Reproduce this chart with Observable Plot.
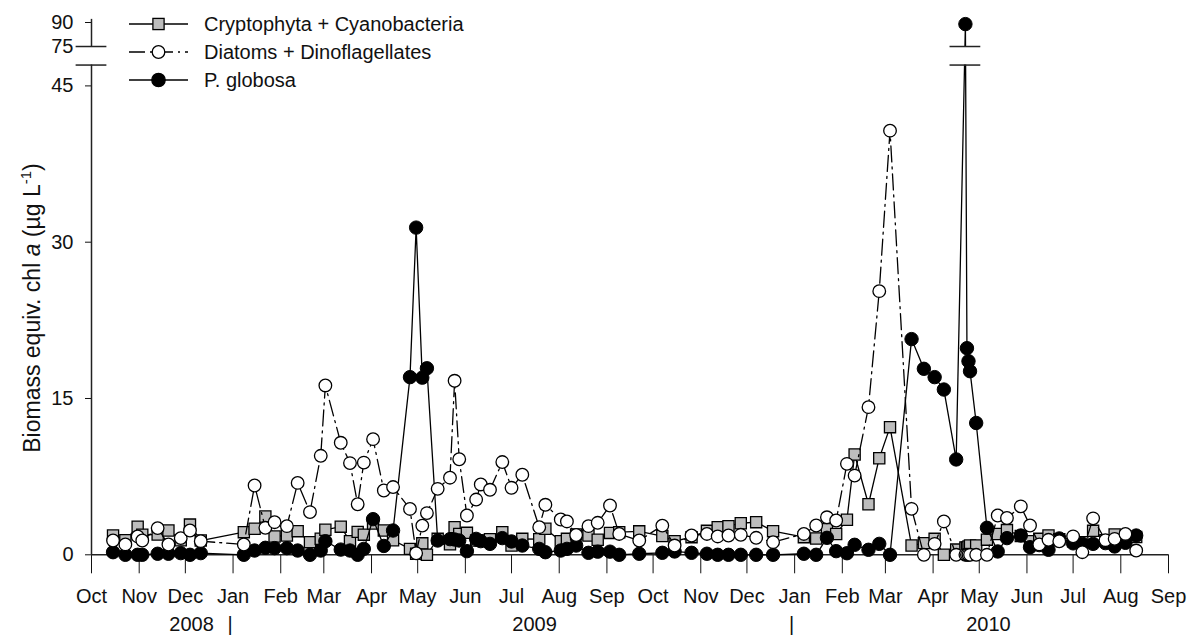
<!DOCTYPE html>
<html><head><meta charset="utf-8">
<script src="https://cdn.jsdelivr.net/npm/d3@7"></script>
<script src="https://cdn.jsdelivr.net/npm/@observablehq/plot@0.6"></script>
<style>
body{margin:0;background:#fff;}
#wrap{position:relative;width:1189px;height:639px;font-family:"Liberation Sans",Arial,sans-serif;}
#wrap svg{position:absolute;left:0;top:0;}
</style></head><body><div id="wrap"></div>
<script>
// ---- data ----
const sampleDates = [
 "2008-10-15","2008-10-23","2008-10-31","2008-11-03","2008-11-13","2008-11-20","2008-11-28","2008-12-04","2008-12-11",
 "2009-01-08","2009-01-15","2009-01-22","2009-01-28","2009-02-05","2009-02-12","2009-02-20","2009-02-27","2009-03-02",
 "2009-03-12","2009-03-18","2009-03-23","2009-03-27","2009-04-02","2009-04-09","2009-04-15",
 "2009-04-26","2009-04-30","2009-05-04","2009-05-07","2009-05-14","2009-05-22","2009-05-25","2009-05-28",
 "2009-06-02","2009-06-08","2009-06-11","2009-06-17","2009-06-25","2009-07-01","2009-07-08","2009-07-19","2009-07-23",
 "2009-08-02","2009-08-06","2009-08-12","2009-08-20","2009-08-26","2009-09-03","2009-09-09","2009-09-22",
 "2009-10-07","2009-10-15","2009-10-26","2009-11-05","2009-11-12","2009-11-19","2009-11-27","2009-12-07","2009-12-18",
 "2010-01-07","2010-01-15","2010-01-22","2010-01-28","2010-02-04","2010-02-09","2010-02-18","2010-02-25","2010-03-04",
 "2010-03-18","2010-03-26","2010-04-02","2010-04-08","2010-04-16","2010-04-22","2010-04-23","2010-04-24","2010-04-25","2010-04-29","2010-05-06",
 "2010-05-13","2010-05-19","2010-05-28","2010-06-03","2010-06-09","2010-06-15","2010-06-22","2010-07-01","2010-07-07",
 "2010-07-14","2010-07-22","2010-07-28","2010-08-04","2010-08-11"
];
const cryptoCyano = [
 1.85,1.4,2.7,1.92,1.95,2.33,1.4,2.9,1.37,
 2.17,2.5,3.68,1.76,1.85,2.27,1.21,1.54,2.4,2.7,1.31,2.2,1.93,3.0,2.33,1.4,
 0.57,0.1,1.1,0.0,1.53,1.0,2.65,2.0,
 2.11,1.37,1.37,1.5,2.17,0.89,1.53,1.5,2.5,1.31,1.53,1.95,1.85,1.44,2.1,2.17,2.25,
 1.8,1.3,1.69,2.3,2.65,2.75,3.03,3.13,2.27,1.69,1.56,2.45,2.0,3.36,9.63,4.85,9.27,12.25,
 0.89,1.12,1.53,0.0,0.5,0.7,0.7,0.8,0.89,0.9,1.45,
 2.0,2.37,1.8,1.3,1.53,1.85,1.5,1.3,1.2,2.3,1.4,1.95,1.6,1.7
];
const diatomsDino = [
 1.37,1.0,1.76,1.37,2.56,0.99,1.6,2.33,1.31,
 0.99,6.65,2.59,3.13,2.75,6.9,4.1,9.5,16.25,10.75,8.8,4.85,8.85,11.1,6.17,6.5,
 4.4,0.15,2.8,4.0,6.33,7.4,16.7,9.17,
 3.77,5.3,6.75,6.24,8.9,6.43,7.68,2.65,4.8,3.39,3.2,1.9,2.75,3.07,4.73,2.0,1.37,
 2.8,0.89,1.85,2.0,1.76,1.85,1.92,1.63,1.21,2.0,2.81,3.6,3.29,8.73,7.6,14.17,25.3,40.7,
 4.41,0.0,1.05,3.2,0.0,0.0,0.0,0.0,0.0,0.0,0.0,
 3.77,3.53,4.65,2.81,1.0,1.44,1.3,1.77,0.25,3.5,1.4,1.53,2.0,0.41
];
const pGlobosa = [
 0.25,0.0,0.0,0.0,0.1,0.1,0.16,0.0,0.16,
 0.0,0.41,0.67,0.64,0.64,0.41,0.0,0.41,1.3,0.5,0.41,0.0,0.57,3.42,0.85,2.33,
 17.05,31.4,17.0,17.9,1.37,1.5,1.47,1.37,
 0.35,1.53,1.31,1.05,1.6,1.28,0.89,0.57,0.25,0.41,0.57,0.89,0.19,0.3,0.3,0.0,0.1,
 0.19,0.32,0.19,0.1,0.0,0.0,0.0,0.0,0.0,0.1,0.0,1.63,0.35,0.15,0.96,0.48,1.05,0.0,
 20.7,17.85,17.05,15.86,9.15,89,19.83,18.58,17.62,12.65,2.59,
 0.32,1.6,1.85,0.73,0.93,0.48,1.57,1.1,1.05,1.05,1.12,0.8,1.15,1.85
];
const seriesNames = ["Cryptophyta + Cyanobacteria","Diatoms + Dinoflagellates","P. globosa"];
const yTickValues = [0,15,30,45,75,90];
const yearLabels = ["2008","2009","2010"];
const yearLabelDates = ["2008-12-05","2009-07-16","2010-05-07"];
const yearSeparatorDates = ["2009-01-01","2010-01-01"];
const xDomain = ["2008-10-01","2010-09-01"];
const breakLow = 47, breakHigh = 75;

// ---- broken y axis: linear below the break, compressed above it ----
const HIGH_BASE = 48.78, HIGH_K = 0.1536;
function g(v){
  if (v <= breakLow) return v;
  if (v >= breakHigh) return HIGH_BASE + (v - breakHigh) * HIGH_K;
  return breakLow + (v - breakLow) * (HIGH_BASE - breakLow) / (breakHigh - breakLow);
}
const yTickPos = yTickValues.map(g);

const rows = sampleDates.map((d, i) => ({
  date: new Date(d),
  crypto: g(cryptoCyano[i]),
  diatoms: g(diatomsDino[i]),
  globosa: g(pGlobosa[i])
}));
const X0 = new Date(xDomain[0]), X1 = new Date(xDomain[1]);
const monthTicks = d3.utcMonth.range(X0, d3.utcDay.offset(X1, 1));
const peakIdx = d3.maxIndex(pGlobosa);
const peakDate = new Date(sampleDates[peakIdx]);
const off = (d, n) => d3.utcDay.offset(d, n);
const AX = "#222";
const DASH = "16,5,2,5";

const chart = Plot.plot({
  width: 1189, height: 639,
  marginLeft: 91, marginRight: 21, marginTop: 22, marginBottom: 84.7,
  style: {fontFamily: "'Liberation Sans', Arial, sans-serif", fontSize: "20px", background: "transparent", color: "#111"},
  x: {type: "utc", domain: [X0, X1], ticks: monthTicks, tickFormat: d3.utcFormat("%b"), tickSize: 19, tickPadding: 15, label: null},
  y: {domain: [0, g(90)], ticks: yTickPos, tickSize: 6, tickPadding: 12, label: null,
      tickFormat: d => { const i = yTickPos.findIndex(t => Math.abs(t - d) < 1e-6); return i >= 0 ? String(yTickValues[i]) : ""; }},
  marks: [
    Plot.ruleY([0], {x1: X0, x2: X1, stroke: AX, strokeWidth: 1.5}),
    Plot.ruleX([{y1: 0, y2: g(breakLow)}, {y1: g(breakHigh), y2: g(90) + 0.3}], {x: () => X0, y1: "y1", y2: "y2", stroke: AX, strokeWidth: 1.5}),
    Plot.ruleY([g(breakLow), g(breakHigh)], {x1: off(X0, -10), x2: off(X0, 10), stroke: AX, strokeWidth: 1.5}),
    // Cryptophyta + Cyanobacteria
    Plot.line(rows, {x: "date", y: "crypto", stroke: "#000", strokeWidth: 1.3}),
    Plot.dot(rows, {x: "date", y: "crypto", symbol: "square", r: 6.3, fill: "#bdbdbd", stroke: "#000", strokeWidth: 1.3}),
    // P. globosa
    Plot.line(rows, {x: "date", y: "globosa", stroke: "#000", strokeWidth: 1.3}),
    Plot.rect([peakDate], {x1: d => off(d, -9), x2: d => off(d, 9), y1: g(breakLow), y2: g(breakHigh), fill: "#fff"}),
    Plot.ruleY([g(breakLow), g(breakHigh)], {x1: off(peakDate, -10), x2: off(peakDate, 10), stroke: AX, strokeWidth: 1.5}),
    Plot.dot(rows, {x: "date", y: "globosa", r: 6.7, fill: "#000", stroke: "#000", strokeWidth: 1}),
    // Diatoms + Dinoflagellates
    Plot.line(rows, {x: "date", y: "diatoms", stroke: "#000", strokeWidth: 1.3, strokeDasharray: DASH}),
    Plot.dot(rows, {x: "date", y: "diatoms", r: 6.3, fill: "#fff", stroke: "#000", strokeWidth: 1.3}),
    // year row
    Plot.text(yearLabels, {x: (d, i) => new Date(yearLabelDates[i]), y: 0, text: d => d, dy: 70, fill: "#111"}),
    Plot.text(yearSeparatorDates, {x: d => new Date(d), y: 0, text: () => "|", dx: -3, dy: 70, fill: "#111"})
  ]
});
const wrap = document.getElementById("wrap");
wrap.appendChild(chart);

// ---- legend + y-axis title overlay ----
const ov = d3.select(wrap).append("svg").attr("width", 1189).attr("height", 639)
  .style("font-family", "'Liberation Sans', Arial, sans-serif").style("pointer-events", "none");
const legendRows = [
  {name: seriesNames[0], y: 24, dash: null, sym: "square"},
  {name: seriesNames[1], y: 52, dash: DASH, sym: "open"},
  {name: seriesNames[2], y: 80, dash: null, sym: "filled"}
];
legendRows.forEach(r => {
  ov.append("line").attr("x1", 129).attr("x2", 188).attr("y1", r.y).attr("y2", r.y)
    .attr("stroke", "#000").attr("stroke-width", 1.3).attr("stroke-dasharray", r.dash);
  if (r.sym === "square") ov.append("rect").attr("x", 158.5 - 5.6).attr("y", r.y - 5.6).attr("width", 11.2).attr("height", 11.2)
    .attr("fill", "#bdbdbd").attr("stroke", "#000").attr("stroke-width", 1.3);
  else ov.append("circle").attr("cx", 158.5).attr("cy", r.y).attr("r", r.sym === "open" ? 6.3 : 6.7)
    .attr("fill", r.sym === "open" ? "#fff" : "#000").attr("stroke", "#000").attr("stroke-width", 1.3);
  ov.append("text").attr("x", 204).attr("y", r.y).attr("dy", "0.36em").attr("font-size", 20).attr("fill", "#111").text(r.name);
});
const yt = ov.append("text").attr("transform", "translate(40,308) rotate(-90)").attr("text-anchor", "middle")
  .attr("font-size", 23).attr("fill", "#111");
yt.append("tspan").text("Biomass equiv. chl ");
yt.append("tspan").attr("font-style", "italic").text("a");
yt.append("tspan").text(" (µg L");
yt.append("tspan").attr("font-size", 15).attr("dy", -9).text("-1");
yt.append("tspan").attr("dy", 9).text(")");
</script></body></html>
